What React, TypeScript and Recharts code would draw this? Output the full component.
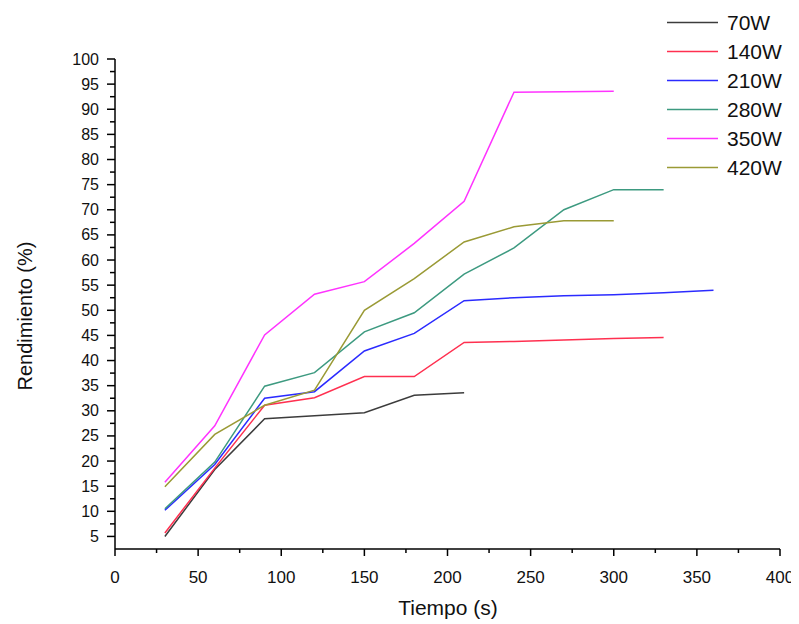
import React from 'react';
import { LineChart, Line, XAxis, YAxis, Legend, Label } from 'recharts';

const times = [30, 60, 90, 120, 150, 180, 210, 240, 270, 300, 330, 360];
const seriesNames = ['70W', '140W', '210W', '280W', '350W', '420W'];
const s70 = [5, 18.3, 28.4, 29, 29.6, 33.1, 33.6];
const s140 = [5.7, 18.6, 31.1, 32.6, 36.8, 36.8, 43.6, 43.8, 44.1, 44.4, 44.6];
const s210 = [10.2, 19.3, 32.5, 33.8, 41.9, 45.4, 51.9, 52.5, 52.9, 53.1, 53.5, 54];
const s280 = [10.5, 19.8, 34.9, 37.6, 45.7, 49.5, 57.2, 62.4, 70, 74, 74];
const s350 = [15.8, 27, 45.1, 53.2, 55.7, 63.3, 71.7, 93.4, 93.5, 93.6];
const s420 = [14.9, 25.3, 31.1, 34.1, 50, 56.3, 63.6, 66.6, 67.8, 67.8];
const colors = ['#3c3c3c', '#ff3050', '#2b2bff', '#3d9a80', '#ff33ff', '#9a9a35'];

const xTicks = [0, 25, 50, 75, 100, 125, 150, 175, 200, 225, 250, 275, 300, 325, 350, 375, 400];
const yTicks = [5, 7.5, 10, 12.5, 15, 17.5, 20, 22.5, 25, 27.5, 30, 32.5, 35, 37.5, 40, 42.5, 45, 47.5, 50, 52.5, 55, 57.5, 60, 62.5, 65, 67.5, 70, 72.5, 75, 77.5, 80, 82.5, 85, 87.5, 90, 92.5, 95, 97.5, 100];

const allSeries = [s70, s140, s210, s280, s350, s420];
const data = times.map((t, i) => {
  const row: any = { t };
  seriesNames.forEach((n, k) => {
    const v = allSeries[k][i];
    row[n] = v === undefined ? null : v;
  });
  return row;
});

const FONT = '"Liberation Sans", Arial, sans-serif';

const XTick = (props: any) => {
  const { x, y, payload } = props;
  const v = payload.value;
  const major = v % 50 === 0;
  return (
    <g>
      <line x1={x} x2={x} y1={y} y2={y + (major ? 7 : 4)} stroke="#000" strokeWidth={1.5} />
      {major && (
        <text x={x} y={y + 28} textAnchor="middle" dominantBaseline="central" fontSize={17} fontFamily={FONT} fill="#111">
          {v}
        </text>
      )}
    </g>
  );
};

const YTick = (props: any) => {
  const { x, y, payload } = props;
  const v = payload.value;
  const major = v % 5 === 0;
  return (
    <g>
      <line x1={x - (major ? 8 : 5)} x2={x} y1={y} y2={y} stroke="#000" strokeWidth={1.5} />
      {major && (
        <text x={x - 16} y={y} textAnchor="end" dominantBaseline="central" fontSize={16} fontFamily={FONT} fill="#111">
          {v}
        </text>
      )}
    </g>
  );
};

const LegendContent = () => (
  <div style={{ fontFamily: FONT }}>
    {seriesNames.map((n, i) => (
      <div key={n} style={{ height: 29, display: 'flex', alignItems: 'center' }}>
        <svg width={60} height={29} style={{ display: 'block' }}>
          <line x1={0} x2={51} y1={14.5} y2={14.5} stroke={colors[i]} strokeWidth={1.5} />
        </svg>
        <span style={{ fontSize: 21, color: '#111', lineHeight: '29px' }}>{n}</span>
      </div>
    ))}
  </div>
);

export default function App() {
  return (
    <div style={{ width: 791, height: 616, background: '#fff' }}>
      <LineChart width={791} height={616} data={data} margin={{ top: 51, right: 19, left: 0, bottom: 0 }}>
        <XAxis
          dataKey="t"
          type="number"
          domain={[0, 400]}
          ticks={xTicks}
          interval={0}
          height={75}
          tickSize={0}
          tickMargin={0}
          tickLine={false}
          tick={<XTick />}
          axisLine={{ stroke: '#000', strokeWidth: 1.5 }}
        >
          <Label
            content={() => (
              <text x={440} y={599} textAnchor="middle" dominantBaseline="central" fontSize={21} fontFamily={FONT} fill="#111">
                Tiempo (s)
              </text>
            )}
          />
        </XAxis>
        <YAxis
          type="number"
          domain={[2.5, 100]}
          ticks={yTicks}
          interval={0}
          width={107}
          tickSize={0}
          tickMargin={0}
          tickLine={false}
          tick={<YTick />}
          axisLine={{ stroke: '#000', strokeWidth: 1.5 }}
          allowDataOverflow
        >
          <Label
            content={() => (
              <text
                x={17}
                y={308}
                textAnchor="middle"
                dominantBaseline="central"
                fontSize={20}
                fontFamily={FONT}
                fill="#111"
                transform="rotate(-90 17 308)"
              >
                Rendimiento (%)
              </text>
            )}
          />
        </YAxis>
        <Legend
          layout="horizontal"
          verticalAlign="middle"
          align="center"
          content={<LegendContent />}
          wrapperStyle={{ top: 0, left: 659, width: 132, margin: 0 }}
        />
        {seriesNames.map((n, i) => (
          <Line
            key={n}
            type="linear"
            dataKey={n}
            stroke={colors[i]}
            strokeWidth={1.5}
            dot={false}
            activeDot={false}
            isAnimationActive={false}
            connectNulls={false}
          />
        ))}
      </LineChart>
    </div>
  );
}
